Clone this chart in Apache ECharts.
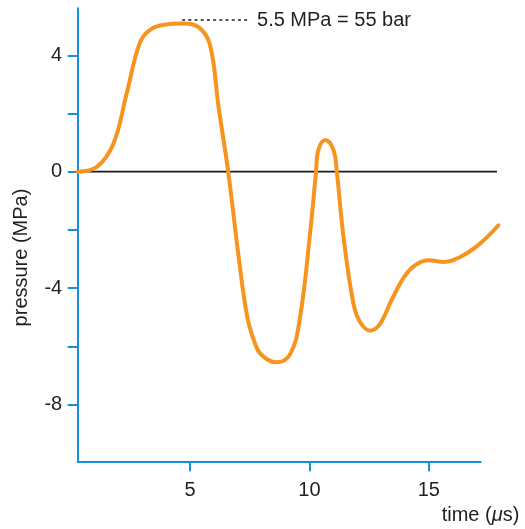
<!DOCTYPE html>
<html>
<head>
<meta charset="utf-8">
<script src="https://cdn.jsdelivr.net/npm/echarts@6/dist/echarts.min.js"></script>
<style>
html,body{margin:0;padding:0;background:#fff;}
#chart{width:525px;height:529px;}
</style>
</head>
<body>
<div id="chart"></div>
<script>
// time in microseconds, pressure in MPa
var time = [0.3, 1.1, 1.8, 2.35, 2.9, 3.35, 4.0, 4.7, 5.4, 5.85, 6.2, 6.6, 7.05, 7.4, 7.7, 7.98, 8.6, 9.2, 9.61, 10.03, 10.28, 10.38, 10.67, 11.01, 11.15, 11.43, 11.85, 12.13, 12.55, 12.96, 13.45, 14.0, 14.45, 14.99, 15.62, 16.32, 17.15, 17.92];
var pressure = [0, 0.17, 0.98, 2.7, 4.43, 4.89, 5.06, 5.09, 4.94, 4.31, 2.2, 0, -3.0, -5.0, -5.85, -6.28, -6.55, -6.26, -5.0, -2.12, 0, 0.75, 1.09, 0.75, 0, -2.24, -4.54, -5.17, -5.46, -5.23, -4.4, -3.58, -3.2, -3.04, -3.1, -2.93, -2.47, -1.84];

var zeroLineX = [0.3, 17.86];
var zeroLineY = [0, 0];

var refLineX = [4.67, 7.43];
var refLineY = [5.21, 5.21];
var refLabel = '5.5 MPa = 55 bar';

var xTicks = [5, 10, 15];
var yTicks = [-8, -6, -4, -2, 0, 2, 4];
var yTickLabels = [-8, -4, 0, 4];

var xName = 'time (';
var xUnit = 'μ';
var xNameEnd = 's)';
var yName = 'pressure (MPa)';

function pairs(xs, ys) { return xs.map(function (x, i) { return [x, ys[i]]; }); }

var BLUE = '#1a8fd3';
var ORANGE = '#f7941d';
var TEXT = '#231f20';
var FONT = '"Liberation Sans", Arial, Helvetica, sans-serif';
var FS = 20;

var yMin = -9.949, yMax = 5.613;
var xMin = 0.295;

var chart = echarts.init(document.getElementById('chart'), null, {renderer: 'canvas'});
chart.setOption({
  animation: false,
  backgroundColor: '#fff',
  grid: [
    {left: 77.7, top: 8.3, width: 403, height: 453},
    {left: 77.7, top: 8.3, width: 421.8, height: 453}
  ],
  xAxis: [
    {
      gridIndex: 0, type: 'value', min: xMin, max: 17.176,
      axisLine: {show: true, onZero: false, lineStyle: {color: BLUE, width: 2}},
      axisTick: {show: true, inside: false, length: 10, customValues: xTicks, lineStyle: {color: BLUE, width: 2}},
      axisLabel: {show: true, customValues: xTicks, margin: 19, color: TEXT, fontSize: FS, fontFamily: FONT},
      splitLine: {show: false}
    },
    {
      gridIndex: 1, type: 'value', min: xMin, max: 17.966, show: false,
      splitLine: {show: false}
    }
  ],
  yAxis: [
    {
      gridIndex: 0, type: 'value', min: yMin, max: yMax,
      axisLine: {show: true, onZero: false, lineStyle: {color: BLUE, width: 2}},
      axisTick: {show: true, inside: false, length: 10, customValues: yTicks, lineStyle: {color: BLUE, width: 2}},
      axisLabel: {show: true, customValues: yTickLabels, margin: 15.5, color: TEXT, fontSize: FS, fontFamily: FONT},
      splitLine: {show: false}
    },
    {
      gridIndex: 1, type: 'value', min: yMin, max: yMax, show: false,
      splitLine: {show: false}
    }
  ],
  series: [
    {
      type: 'line', xAxisIndex: 1, yAxisIndex: 1,
      data: pairs(zeroLineX, zeroLineY),
      showSymbol: false, symbol: 'none',
      lineStyle: {color: '#1a1a1a', width: 1.7},
      z: 2
    },
    {
      type: 'line', xAxisIndex: 1, yAxisIndex: 1,
      data: pairs(time, pressure),
      smooth: 0.4,
      showSymbol: false, symbol: 'none',
      lineStyle: {color: ORANGE, width: 4, cap: 'round', join: 'round'},
      z: 3
    },
    {
      type: 'line', xAxisIndex: 1, yAxisIndex: 1,
      data: pairs(refLineX, refLineY),
      showSymbol: false, symbol: 'none',
      lineStyle: {color: TEXT, width: 1.5, type: [3, 3.2]},
      endLabel: {show: true, formatter: refLabel, color: TEXT, fontSize: FS, fontFamily: FONT, distance: 9},
      z: 3
    }
  ],
  graphic: [
    {
      type: 'text', x: 21, y: 257.5, rotation: Math.PI / 2,
      style: {text: yName, fill: TEXT, fontSize: FS, fontFamily: FONT, align: 'center', verticalAlign: 'middle'}
    },
    {
      type: 'text', x: 480.5, y: 515,
      style: {
        text: xName + '{i|' + xUnit + '}' + xNameEnd,
        fill: TEXT, fontSize: FS, fontFamily: FONT, align: 'center', verticalAlign: 'middle',
        rich: {i: {fontStyle: 'italic', fontSize: FS, fontFamily: FONT, fill: TEXT}}
      }
    }
  ]
});
</script>
</body>
</html>
